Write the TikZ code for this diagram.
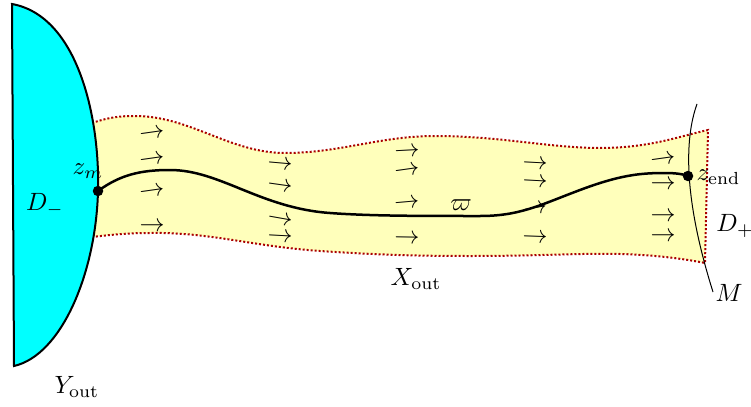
\documentclass[tikz,border=0pt]{standalone}
\usetikzlibrary{calc}
\definecolor{bandyellow}{RGB}{255,255,187}
\definecolor{dotred}{RGB}{170,0,0}
\definecolor{regcyan}{RGB}{0,255,255}
\begin{document}
\begin{tikzpicture}[x=0.4pt,y=-0.4pt,
  flow/.style={inner sep=0pt},
  lab/.style={inner sep=0pt},
  dotedge/.style={draw=dotred,line width=0.8pt,dash pattern=on 0.8pt off 0.8pt},
  pt/.style={circle,fill=black,inner sep=0pt,minimum size=4.2pt}]
\useasboundingbox (0,0) rectangle (751,406);
% band
\def\bandtop{(92,123) .. controls (110,117) and (120,116) .. (135,116) .. controls (190,116) and (230,153) .. (285,153) .. controls (340,153) and (380,136) .. (435,136) .. controls (500,136) and (550,148) .. (600,148) .. controls (650,148) and (680,136) .. (708,130)}
\def\bandbot{(705,263) .. controls (690,260) and (660,255) .. (620,254) .. controls (580,253) and (540,256) .. (470,256) .. controls (420,256) and (380,255) .. (320,251) .. controls (250,246) and (210,232) .. (150,233) .. controls (125,233) and (110,235) .. (92,237)}
\fill[bandyellow] (80,124) -- \bandtop -- \bandbot -- (80,238) -- cycle;
\draw[dotedge] \bandtop -- \bandbot;
% region D-
\draw[fill=regcyan,line width=0.8pt] (12,4) .. controls (78,16) and (100,118) .. (98,191) .. controls (96,272) and (62,355) .. (14,366) -- cycle;
% flow arrows
\foreach \x/\y/\r in {152/134/8, 152/160/8, 152/192/8, 152/227/0,
  280/165/-5, 280/187/-8, 280/220/-10, 280/238/-3,
  407/152/3, 407/171/8, 407/204/5, 407/239/-1,
  535/165/-3, 535/183/-3, 535/210/10, 535/238/-2,
  663/160/8, 663/185/0, 663/217/0, 663/237/0}
  \node[flow,rotate=\r] at (\x,\y) {$\rightarrow$};
% M curve
\draw[line width=0.4pt] (697,104) .. controls (684,140) and (684,200) .. (713,292);
% points
\coordinate (zm) at (98,191);
\coordinate (zend) at (688,176);
\draw[line width=1pt] (zm) .. controls (120,175) and (140,170) .. (170,170) .. controls (220,170) and (260,208) .. (330,213) .. controls (370,216) and (420,216) .. (480,216) .. controls (520,216) and (540,205) .. (580,190) .. controls (620,175) and (640,173) .. (665,173) .. controls (675,173) and (683,174) .. (zend);
\node[pt] (zmdot) at (zm) {};
\node[pt] (zenddot) at (zend) {};
% labels
\node[lab] (lzm) at (88,171) {$z_m$};
\node[lab,anchor=west] (lzend) at (696,177) {$z_{\mathrm{end}}$};
\node[lab] (lvarpi) at (461,205) {$\varpi$};
\node[lab] (lDm) at (45,205) {$D_-$};
\node[lab] (lDp) at (735,226) {$D_+$};
\node[lab] (lM) at (729,293) {$M$};
\node[lab] (lX) at (416,279) {$X_{\mathrm{out}}$};
\node[lab] (lY) at (77,387) {$Y_{\mathrm{out}}$};
\end{tikzpicture}
\end{document}
